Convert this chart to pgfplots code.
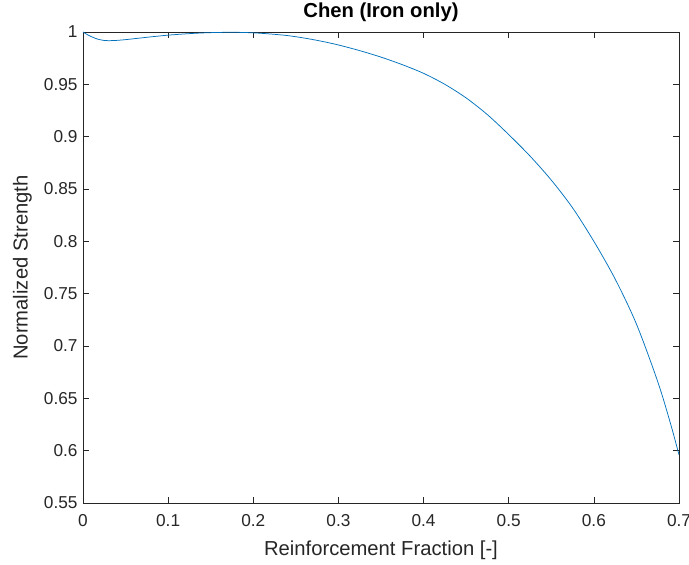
\documentclass[border=0pt]{standalone}
\usepackage{pgfplots}
\pgfplotsset{compat=1.18}
\usepackage{fontspec}
\setmainfont{Liberation Sans}
\definecolor{mblue}{rgb}{0,0.447,0.741}
\definecolor{axgray}{gray}{0.15}

\begin{document}
\begin{tikzpicture}
\useasboundingbox (-83bp,-62bp) rectangle (606bp,503bp);
\begin{axis}[
    at={(0,0)}, anchor=south west,
    width=596bp, height=471bp,
    scale only axis,
    xmin=0, xmax=0.7,
    ymin=0.55, ymax=1,
    xtick={0,0.1,...,0.7},
    ytick={0.55,0.6,...,1.0},
    tick align=inside,
    major tick length=6bp,
    axis line style={axgray, line width=0.6pt},
    tick style={axgray, line width=0.6pt},
    tick label style={font=\fontsize{17.3}{19}\selectfont, text=axgray},
    /pgf/number format/assume math mode=true,
    xticklabel style={/pgf/number format/fixed, /pgf/number format/precision=2, anchor=north, yshift=-8bp},
    yticklabel style={/pgf/number format/fixed, /pgf/number format/precision=2, xshift=-2bp},
    xlabel={Reinforcement Fraction [-]},
    ylabel={Normalized Strength},
    label style={font=\fontsize{20.3}{22}\selectfont, text=axgray},
    title={Chen (Iron only)},
    every axis title shift=0pt,
    title style={font=\bfseries\fontsize{20.3}{22}\selectfont,
        at={(axis description cs:0.5,1.0425)}, anchor=center},
    xlabel style={at={(axis description cs:0.5,-0.0998)}, anchor=center},
    ylabel style={at={(axis description cs:-0.1015,0.5)}, anchor=center},
]
\addplot[mblue, line width=0.75pt, smooth] coordinates {
    (0.000, 1.0000)
    (0.005, 0.9975)
    (0.010, 0.9955)
    (0.015, 0.9938)
    (0.020, 0.9926)
    (0.025, 0.9919)
    (0.030, 0.9917)
    (0.040, 0.9920)
    (0.050, 0.9927)
    (0.060, 0.9936)
    (0.070, 0.9945)
    (0.080, 0.9954)
    (0.090, 0.9962)
    (0.100, 0.9970)
    (0.120, 0.9982)
    (0.140, 0.9991)
    (0.160, 0.9996)
    (0.180, 0.9997)
    (0.200, 0.9992)
    (0.220, 0.9981)
    (0.240, 0.9966)
    (0.260, 0.9942)
    (0.280, 0.9912)
    (0.300, 0.9876)
    (0.325, 0.9822)
    (0.350, 0.9760)
    (0.375, 0.9688)
    (0.400, 0.9605)
    (0.425, 0.9500)
    (0.450, 0.9370)
    (0.475, 0.9210)
    (0.500, 0.9020)
    (0.525, 0.8815)
    (0.550, 0.8585)
    (0.575, 0.8320)
    (0.600, 0.8000)
    (0.625, 0.7640)
    (0.650, 0.7210)
    (0.675, 0.6660)
    (0.690, 0.6260)
    (0.700, 0.5960)
};
\end{axis}
\end{tikzpicture}
\end{document}
